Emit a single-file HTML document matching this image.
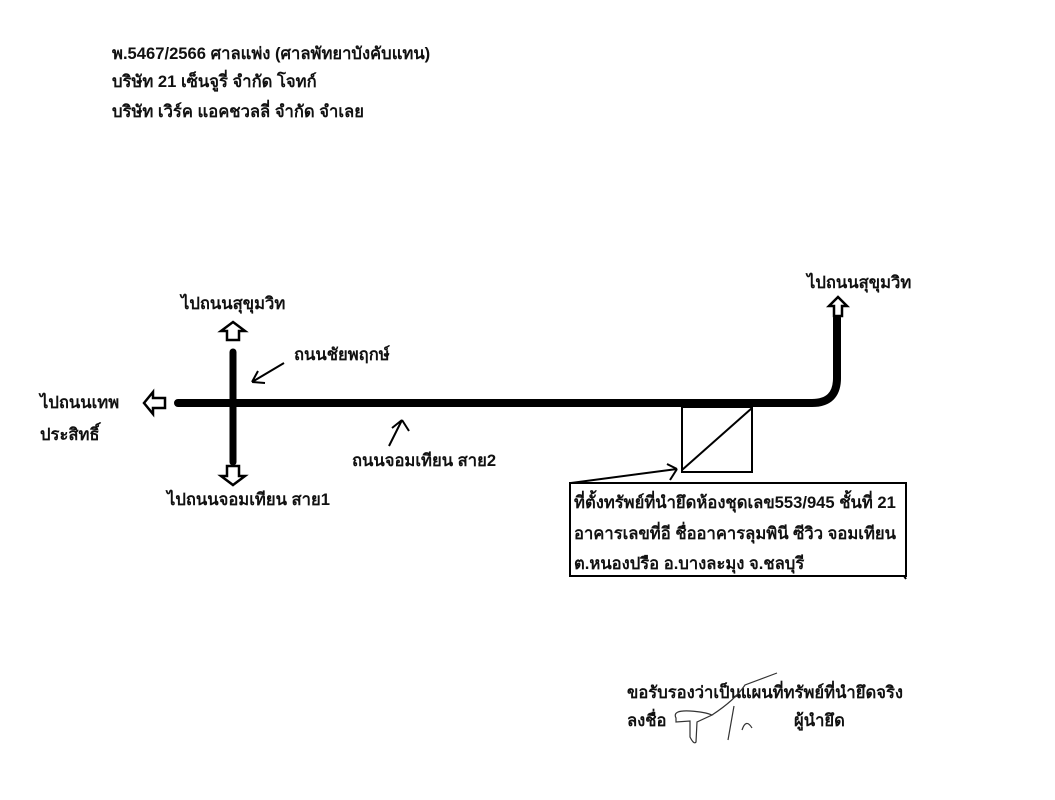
<!DOCTYPE html>
<html><head><meta charset="utf-8"><style>
html,body{margin:0;padding:0;background:#fff;}
svg{display:block}
text{font-family:"Liberation Sans","DejaVu Sans",sans-serif;font-size:16.6px;font-weight:bold;fill:#111;}
</style></head><body>
<svg width="1055" height="800" viewBox="0 0 1055 800" xmlns="http://www.w3.org/2000/svg">
<rect width="1055" height="800" fill="#fff"/>
<text x="112" y="59">พ.5467/2566 ศาลแพ่ง (ศาลพัทยาบังคับแทน)</text>
<text x="112" y="87">บริษัท 21 เซ็นจูรี่ จำกัด โจทก์</text>
<text x="112" y="117">บริษัท เวิร์ค แอคชวลลี่ จำกัด จำเลย</text>

<path d="M178 403 H812 Q837 403 837 378 V318" fill="none" stroke="#000" stroke-width="8" stroke-linecap="round"/>
<line x1="233" y1="352" x2="233" y2="462" stroke="#000" stroke-width="7" stroke-linecap="round"/>

<polygon points="233,322 245,331 239,331 239,340 227,340 227,331 221,331" fill="#fff" stroke="#000" stroke-width="2.5"/>
<polygon points="233,485 245,476 239,476 239,466 227,466 227,476 221,476" fill="#fff" stroke="#000" stroke-width="2.5"/>
<polygon points="144,403 153,392 153,398 165,398 165,408 153,408 153,414" fill="#fff" stroke="#000" stroke-width="2.5"/>
<polygon points="838,297 847,306 842,306 842,316 834,316 834,306 829,306" fill="#fff" stroke="#000" stroke-width="2.5"/>

<path d="M284 363 L252 382 M252 382 L258 371 M252 382 L265 383" stroke="#000" stroke-width="2" fill="none"/>
<path d="M389 446 L402 420 M402 420 L392 428 M402 420 L409 431" stroke="#000" stroke-width="2" fill="none"/>

<rect x="682" y="407" width="70" height="65" fill="none" stroke="#000" stroke-width="2"/>
<line x1="682" y1="470" x2="752" y2="408" stroke="#000" stroke-width="2"/>
<path d="M571 483 L677 469 M677 469 L667 464 M677 469 L670 480" stroke="#000" stroke-width="2" fill="none"/>

<rect x="570" y="483" width="336" height="93" fill="none" stroke="#000" stroke-width="2"/>
<line x1="904" y1="576" x2="906" y2="579" stroke="#000" stroke-width="2"/>
<text x="574" y="508">ที่ตั้งทรัพย์ที่นำยึดห้องชุดเลข553/945 ชั้นที่ 21</text>
<text x="574" y="539">อาคารเลขที่อี ชื่ออาคารลุมพินี ซีวิว จอมเทียน</text>
<text x="574" y="569">ต.หนองปรือ อ.บางละมุง จ.ชลบุรี</text>

<text x="181" y="309">ไปถนนสุขุมวิท</text>
<text x="294" y="360">ถนนชัยพฤกษ์</text>
<text x="40" y="408">ไปถนนเทพ</text>
<text x="40" y="440">ประสิทธิ์</text>
<text x="352" y="466">ถนนจอมเทียน สาย2</text>
<text x="167" y="505">ไปถนนจอมเทียน สาย1</text>
<text x="807" y="288">ไปถนนสุขุมวิท</text>

<text x="627" y="698">ขอรับรองว่าเป็นแผนที่ทรัพย์ที่นำยึดจริง</text>
<text x="627" y="726">ลงชื่อ</text>
<text x="794" y="726">ผู้นำยึด</text>
<path d="M676 718 Q672 710 690 711 Q705 712 712 715 L697 722 L696 742 Q694 745 690 737 L690 721 L676 722 Z M712 715 Q735 700 745 685 L777 673 M734 706 L728 740" fill="none" stroke="#333" stroke-width="1.2"/>
<path d="M742 730 Q746 718 752 728" fill="none" stroke="#333" stroke-width="1.2"/>
</svg>
</body></html>
